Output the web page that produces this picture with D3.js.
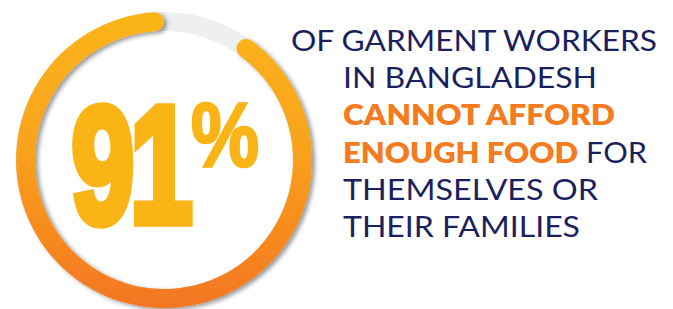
<!DOCTYPE html>
<html>
<head>
<meta charset="utf-8">
<script src="https://cdnjs.cloudflare.com/ajax/libs/d3/7.8.5/d3.min.js"></script>
<style>
  html,body{margin:0;padding:0;background:#fff;}
  svg{display:block;}
</style>
</head>
<body>
<script>
var width=673,height=309;

// data
var share=91;
var navy="#1c1f5e",orange="#f47b20",gold="#fbb416";
var lines=[
  [{t:"OF GARMENT WORKERS",hi:false}],
  [{t:"IN BANGLADESH",hi:false}],
  [{t:"CANNOT AFFORD",hi:true}],
  [{t:"ENOUGH FOOD",hi:true},{t:"FOR",hi:false}],
  [{t:"THEMSELVES OR",hi:false}],
  [{t:"THEIR FAMILIES",hi:false}]
];

// layout
var cx=164,cy=160,rOut=148,rIn=129;
var textLeft=[291,343,343,343,343,343];
var segWidth=[[366],[254],[272],[235,61],[255],[237]];
var segGap=8;

var svg=d3.select("body").append("svg")
    .attr("width",width)
    .attr("height",height);

var defs=svg.append("defs");
var grad=defs.append("linearGradient")
    .attr("id","ring")
    .attr("gradientUnits","userSpaceOnUse")
    .attr("x1",0).attr("y1",-rOut)
    .attr("x2",0).attr("y2",rOut);
grad.append("stop").attr("offset","0%").attr("stop-color","#fbb519");
grad.append("stop").attr("offset","45%").attr("stop-color","#f9a31c");
grad.append("stop").attr("offset","100%").attr("stop-color","#f47521");

var f=defs.append("filter").attr("id","shadow")
    .attr("x","-10%").attr("y","-10%").attr("width","120%").attr("height","120%");
f.append("feDropShadow")
    .attr("dx",3).attr("dy",2).attr("stdDeviation",2)
    .attr("flood-color","#000").attr("flood-opacity",0.4);

var angle=d3.scaleLinear().domain([0,100]).range([0,2*Math.PI]);
var arc=d3.arc().innerRadius(rIn).outerRadius(rOut).cornerRadius((rOut-rIn)/2);

var g=svg.append("g").attr("transform","translate("+cx+","+cy+")");
g.append("path")
  .attr("d",arc({startAngle:0,endAngle:2*Math.PI}))
  .attr("fill","#eeeff1");
g.append("path")
  .attr("d",arc({startAngle:angle(100-share),endAngle:angle(100)}))
  .attr("fill","url(#ring)")
  .attr("filter","url(#shadow)");

// big number, squeezed into a box
function fitText(str,box,size,sw,ls,bearL,bearR){
  var t=svg.append("text")
    .attr("font-family","'Liberation Sans', Arial, sans-serif")
    .attr("font-weight",700)
    .attr("font-size",size)
    .attr("letter-spacing",ls)
    .attr("fill",gold)
    .attr("stroke",gold)
    .attr("stroke-width",sw)
    .attr("stroke-linejoin","miter")
    .style("vector-effect","non-scaling-stroke")
    .text(str);
  var b=t.node().getBBox();
  // trim side bearings and trailing spacing
  var inkX=b.x+bearL*size, inkW=b.width-(bearL+bearR)*size-ls;
  var inkH=size*0.716;
  var sx=(box.w-sw)/inkW, sy=(box.h-sw)/inkH;
  t.attr("transform","translate("+(box.x+sw/2)+","+(box.y+box.h-sw/2)+") scale("+sx+","+sy+") translate("+(-inkX)+",0)");
  return t;
}
fitText(String(share),{x:72,y:100,w:117,h:126},160,8,-6,0.04,0.08);
fitText("%",{x:192,y:100,w:66,h:67},90,2.5,0,0.03,0.03);

// caption
var y0=51,lh=37.2;
lines.forEach(function(segs,i){
  var x=textLeft[i];
  segs.forEach(function(s,j){
    if(j>0)x+=segGap;
    svg.append("text")
      .attr("x",x)
      .attr("y",y0+i*lh)
      .attr("font-family","Lato, 'Noto Sans', sans-serif")
      .attr("font-weight",s.hi?800:400)
      .attr("font-size",28)
      .attr("fill",s.hi?orange:navy)
      .attr("textLength",segWidth[i][j])
      .attr("lengthAdjust","spacingAndGlyphs")
      .text(s.t);
    x+=segWidth[i][j];
  });
});
</script>
</body>
</html>
